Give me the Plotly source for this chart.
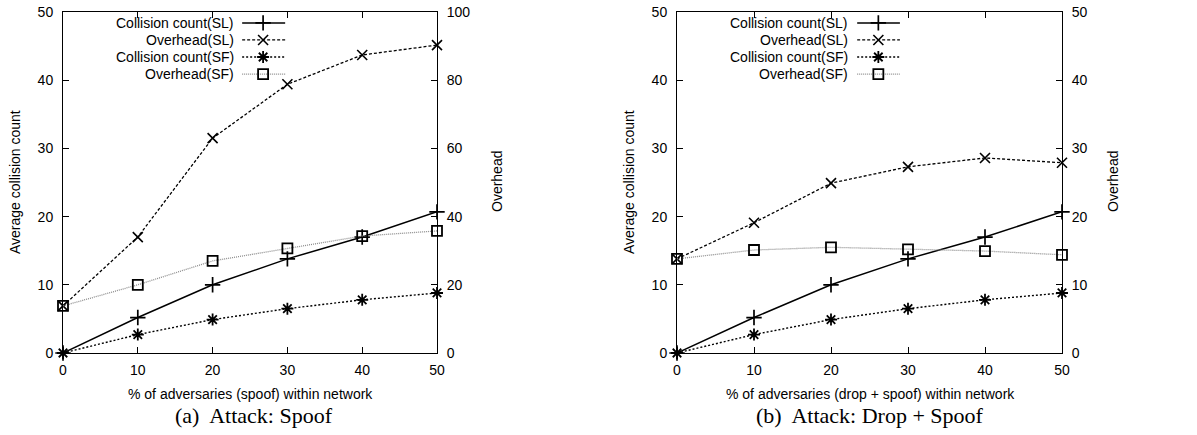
import plotly.graph_objects as go

# ---- data ----
x_pct = [0, 10, 20, 30, 40, 50]
# (a) Attack: Spoof
a_coll_sl = [0, 5.2, 10.0, 13.8, 17.0, 20.7]
a_over_sl = [13.8, 34.0, 63.0, 78.8, 87.4, 90.3]
a_coll_sf = [0, 2.7, 4.9, 6.5, 7.8, 8.8]
a_over_sf = [13.8, 20.0, 27.0, 30.7, 34.3, 35.8]
# (b) Attack: Drop + Spoof
b_coll_sl = [0, 5.2, 10.0, 13.8, 17.0, 20.7]
b_over_sl = [13.8, 19.1, 24.9, 27.3, 28.6, 27.9]
b_coll_sf = [0, 2.7, 4.9, 6.5, 7.8, 8.8]
b_over_sf = [13.8, 15.1, 15.5, 15.2, 14.95, 14.4]

legend_names = ["Collision count(SL)", "Overhead(SL)", "Collision count(SF)", "Overhead(SF)"]
x_ticks = [0, 10, 20, 30, 40, 50]
left_ticks = [0, 10, 20, 30, 40, 50]
a_right_ticks = [0, 20, 40, 60, 80, 100]
b_right_ticks = [0, 10, 20, 30, 40, 50]

W, H = 1197, 435
FONT = "Liberation Sans, Arial, sans-serif"
SERIF = "Liberation Serif, DejaVu Serif, serif"

def px_x(p):
    return p / W

def px_y(p):
    return 1 - p / H

dom_y = [px_y(353), px_y(12)]
dom_a = [px_x(63), px_x(437)]
dom_b = [px_x(677), px_x(1062)]

styles = [
    dict(line=dict(color="black", width=1.5, dash="solid"),
         marker=dict(symbol="cross-thin", size=11, color="black", line=dict(color="black", width=1.7))),
    dict(line=dict(color="black", width=1.3, dash="3px,2px"),
         marker=dict(symbol="x-thin", size=10, color="black", line=dict(color="black", width=1.6))),
    dict(line=dict(color="black", width=1.4, dash="2px,2px"),
         marker=dict(symbol="asterisk-open", size=10, color="black", line=dict(color="black", width=1.8))),
    dict(line=dict(color="#8c8c8c", width=1.3, dash="1px,1px"),
         marker=dict(symbol="square-open", size=10, color="black", line=dict(color="black", width=1.8))),
]

fig = go.Figure()

def add_panel(xa, ya_l, ya_r, series):
    axes = [ya_l, ya_r, ya_l, ya_r]
    for i, (vals, yy) in enumerate(zip(series, axes)):
        fig.add_trace(go.Scatter(
            x=x_pct, y=vals, mode="lines+markers", name=legend_names[i],
            xaxis=xa, yaxis=yy, showlegend=False,
            line=styles[i]["line"], marker=styles[i]["marker"], cliponaxis=False))

add_panel("x", "y", "y2", [a_coll_sl, a_over_sl, a_coll_sf, a_over_sf])
add_panel("x2", "y3", "y4", [b_coll_sl, b_over_sl, b_coll_sf, b_over_sf])

# custom gnuplot-style key (text left, sample right) on hidden overlay axes
key_rows = [0.968, 0.918, 0.868, 0.818]
annotations = []

def add_key(xa, ya, text_right, lx0, lx1, mx):
    for i, yk in enumerate(key_rows):
        fig.add_trace(go.Scatter(x=[lx0, lx1], y=[yk, yk], mode="lines",
                                 xaxis=xa, yaxis=ya, showlegend=False,
                                 line=styles[i]["line"], hoverinfo="skip"))
        fig.add_trace(go.Scatter(x=[mx], y=[yk], mode="markers",
                                 xaxis=xa, yaxis=ya, showlegend=False,
                                 marker=styles[i]["marker"], hoverinfo="skip"))
        annotations.append(dict(x=text_right, y=yk, xref=xa, yref=ya, text=legend_names[i],
                                showarrow=False, xanchor="right", yanchor="middle",
                                font=dict(family=FONT, size=14, color="black")))

add_key("x3", "y5", 0.462, 0.479, 0.594, 0.535)
add_key("x4", "y6", 0.450, 0.468, 0.579, 0.523)

axis_font = dict(family=FONT, size=14, color="black")
common_x = dict(range=[0, 50], tickvals=x_ticks, ticks="inside", ticklen=6, showline=True,
                linecolor="black", linewidth=1, mirror="ticks", showgrid=False, zeroline=False,
                tickfont=axis_font, tickcolor="black", ticklabelstandoff=4)
common_y = dict(ticks="inside", ticklen=6, showline=True, linecolor="black", linewidth=1,
                showgrid=False, zeroline=False, tickfont=axis_font, tickcolor="black",
                ticklabelstandoff=6)

fig.update_layout(
    width=W, height=H, margin=dict(l=0, r=0, t=0, b=0, autoexpand=False),
    plot_bgcolor="rgba(0,0,0,0)", paper_bgcolor="white",
    xaxis=dict(domain=dom_a, anchor="y", **common_x),
    xaxis2=dict(domain=dom_b, anchor="y3", **common_x),
    yaxis=dict(domain=dom_y, anchor="x", range=[0, 50], tickvals=left_ticks, **common_y),
    yaxis2=dict(domain=dom_y, anchor="x", overlaying="y", side="right", range=[0, 100],
                tickvals=a_right_ticks, **common_y),
    yaxis3=dict(domain=dom_y, anchor="x2", range=[0, 50], tickvals=left_ticks, **common_y),
    yaxis4=dict(domain=dom_y, anchor="x2", overlaying="y3", side="right", range=[0, 50],
                tickvals=b_right_ticks, **common_y),
    xaxis3=dict(domain=dom_a, anchor="y5", range=[0, 1], visible=False, fixedrange=True),
    yaxis5=dict(domain=dom_y, anchor="x3", range=[0, 1], visible=False, fixedrange=True),
    xaxis4=dict(domain=dom_b, anchor="y6", range=[0, 1], visible=False, fixedrange=True),
    yaxis6=dict(domain=dom_y, anchor="x4", range=[0, 1], visible=False, fixedrange=True),
    showlegend=False,
)

title_font = dict(family=FONT, size=14, color="black")
cap_font = dict(family=SERIF, size=22, color="black")

def ann(x, y, text, font, angle=0):
    return dict(x=px_x(x), y=px_y(y), xref="paper", yref="paper", text=text,
                textangle=angle, showarrow=False, font=font,
                xanchor="center", yanchor="middle")

annotations += [
    ann(15, 182, "Average collision count", title_font, -90),
    ann(497, 182, "Overhead", title_font, -90),
    ann(629, 182, "Average collision count", title_font, -90),
    ann(1113, 182, "Overhead", title_font, -90),
    ann(250, 394, "% of adversaries (spoof) within network", title_font),
    ann(870, 394, "% of adversaries (drop + spoof) within network", title_font),
    ann(254, 415, "(a)  Attack: Spoof", cap_font),
    ann(870, 415, "(b)  Attack: Drop + Spoof", cap_font),
]
fig.update_layout(annotations=annotations)

fig.write_html("out.html", post_script="document.body.style.margin='0';",
               config={"displayModeBar": False})
